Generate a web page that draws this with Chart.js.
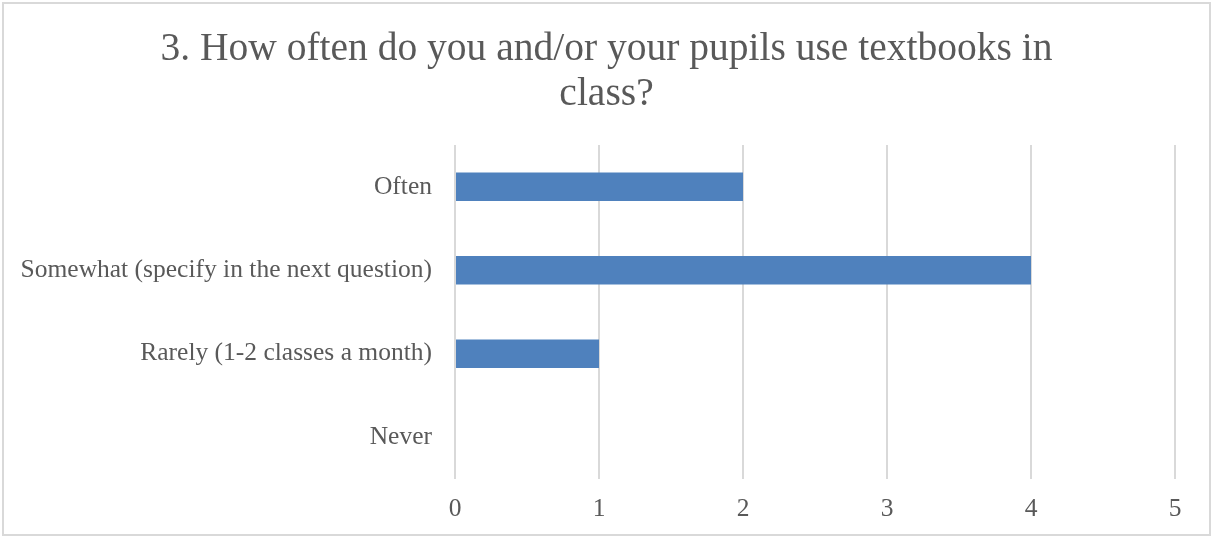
<!DOCTYPE html>
<html>
<head>
<meta charset="utf-8">
<script src="https://cdn.jsdelivr.net/npm/chart.js@4"></script>
<style>
  body { margin: 0; background: #fff; }
  #frame {
    position: absolute; left: 2px; top: 2px;
    width: 1209px; height: 534px;
    border: 2px solid #d9d9d9; box-sizing: border-box;
  }
  #graph { display: block; }
</style>
</head>
<body>
<div id="frame"><canvas id="graph" width="1205" height="530"></canvas></div>
<script>
const categories = ['Often', 'Somewhat (specify in the next question)', 'Rarely (1-2 classes a month)', 'Never']
const answers = [2, 4, 1, 0]
const xTicks = [0, 1, 2, 3, 4, 5]
const titleLines = ['3. How often do you and/or your pupils use textbooks in', 'class?']

const textColor = '#595959'
const fontFamily = "'Liberation Serif', 'DejaVu Serif', serif"

var ctx = document.querySelector('#graph').getContext('2d')

new Chart(ctx, {
    type: 'bar',
    data: {
        labels: categories,
        datasets: [{
            data: answers,
            backgroundColor: '#4f81bd',
            barPercentage: 0.34,
            categoryPercentage: 1
        }]
    },
    options: {
        indexAxis: 'y',
        responsive: false,
        animation: false,
        layout: { padding: 0 },
        plugins: {
            legend: { display: false },
            tooltip: { enabled: false },
            title: {
                display: true,
                text: titleLines,
                color: textColor,
                font: { family: fontFamily, size: 39.5, weight: 'normal', lineHeight: 1.14 },
                padding: { top: 23, bottom: 28 }
            }
        },
        scales: {
            x: {
                min: 0,
                max: 5,
                afterBuildTicks: (scale) => { scale.ticks = xTicks.map(v => ({ value: v })) },
                grid: { color: '#d9d9d9', lineWidth: 2, drawTicks: false },
                border: { display: false },
                ticks: { color: textColor, font: { family: fontFamily, size: 25.5 }, padding: 15 },
                afterFit: (scale) => { scale.height = 55 }
            },
            y: {
                grid: { display: false, drawTicks: false },
                border: { display: false },
                ticks: { color: textColor, font: { family: fontFamily, size: 25.5 }, padding: 23 },
                afterFit: (scale) => { scale.width = 451 }
            },
            spacer: {
                type: 'linear',
                position: 'right',
                grid: { display: false, drawTicks: false },
                border: { display: false },
                ticks: { display: false },
                afterFit: (scale) => { scale.width = 34 }
            }
        }
    }
})
</script>
</body>
</html>
